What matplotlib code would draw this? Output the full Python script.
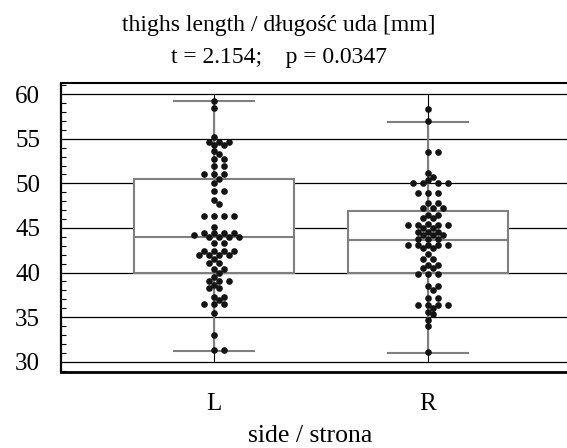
import numpy as np
import matplotlib.pyplot as plt
from matplotlib.ticker import MultipleLocator

plt.rcParams['font.family'] = ['Liberation Serif', 'DejaVu Serif']

# thigh length, left side [mm]
left = [59.3, 58.5, 55.2, 54.7, 54.7, 54.7, 54.3, 54.3, 53.6, 53.3, 52.7, 52.7,
        51.9, 51.9, 51.0, 51.0, 51.0, 50.5, 50.1, 49.1, 49.1, 48.1, 47.7,
        46.3, 46.3, 46.3, 46.3, 45.1, 44.4, 44.4, 44.4, 44.4, 44.0, 44.0, 44.0,
        44.0, 44.2, 43.3, 43.3, 42.4, 42.4, 42.4, 42.4, 42.0, 42.0, 42.0, 42.0,
        41.5, 41.1, 41.1, 40.4, 40.4, 40.0, 39.5, 39.0, 39.0, 39.0, 38.6, 38.3,
        38.3, 37.3, 37.3, 36.9, 36.5, 36.5, 36.5, 35.5, 33.0, 31.3, 31.3]
# thigh length, right side [mm]
right = [58.3, 57.0, 53.5, 53.5, 51.2, 50.7, 50.4, 50.1, 50.1, 50.1, 50.1,
         48.9, 48.9, 48.9, 47.8, 47.8, 47.2, 47.2, 47.2, 46.4, 46.4, 46.1, 46.1,
         45.4, 45.3, 45.3, 45.3, 45.3, 45.0, 45.0, 44.6, 44.6, 44.6, 44.2, 44.2,
         44.2, 43.8, 43.8, 43.8, 43.1, 43.1, 43.1, 43.1, 43.1, 42.7, 42.7, 42.1,
         41.5, 41.5, 40.9, 40.9, 40.5, 40.5, 39.8, 39.8, 39.8, 38.5, 38.5, 38.0,
         37.1, 37.1, 36.4, 36.4, 36.4, 36.4, 36.0, 35.6, 35.3, 34.7, 34.0, 31.1]

sides = ['L', 'R']
box_low = [40.0, 40.0]
box_med = [44.0, 43.6]
box_high = [50.45, 46.9]
whisk_low = [31.25, 31.0]
whisk_high = [59.2, 56.9]

W, H, DPI = 567, 448, 100
fig = plt.figure(figsize=(W / DPI, H / DPI), dpi=DPI)
ax = fig.add_axes([61 / W, (H - 372) / H, 1 - 61 / W, (372 - 83.5) / H])
ax.set_xlim(0.285, 2.65)
ax.set_ylim(28.84, 61.21)

pos = [1, 2]
ax.vlines(pos, 30, 60, color='black', lw=0.8, zorder=2)

stats = []
for i in range(2):
    stats.append(dict(med=box_med[i], q1=box_low[i], q3=box_high[i],
                      whislo=whisk_low[i], whishi=whisk_high[i], fliers=[]))
gray = '#7f7f7f'
ax.bxp(stats, positions=pos, widths=0.75, patch_artist=True, showfliers=False,
       boxprops=dict(facecolor='white', edgecolor=gray, lw=1.5),
       medianprops=dict(color=gray, lw=1.5),
       whiskerprops=dict(color=gray, lw=1.5),
       capprops=dict(color=gray, lw=1.5),
       zorder=3)
ax.set_xlim(0.285, 2.65)
ax.set_ylim(28.84, 61.21)

ax.yaxis.set_major_locator(MultipleLocator(5))
ax.yaxis.set_minor_locator(MultipleLocator(1))
ax.grid(axis='y', which='major', color='black', lw=0.9)
ax.set_axisbelow(True)
ax.tick_params(axis='y', which='major', length=0, pad=15, labelsize=18)
ax.tick_params(axis='y', which='minor', direction='in', length=3.6, width=0.8)
ax.set_xticks(pos)
ax.set_xticklabels(sides)
ax.tick_params(axis='x', length=0, pad=15, labelsize=18)
ax.spines['right'].set_visible(False)
ax.spines['left'].set_linewidth(1.6)
ax.spines['top'].set_linewidth(1.5)
ax.spines['bottom'].set_linewidth(2.0)

# simple beeswarm in pixel space
px_x = 214.0
px_y = ax.transData.transform((0, 60))[1] - ax.transData.transform((0, 55))[1]
px_y /= 5.0
step = 5.0
dmin = 5.4


def swarm(vals):
    placed = []
    offs = []
    cands = [0]
    for n in range(1, 20):
        cands += [n, -n]
    for v in vals:
        y = v * px_y
        for c in cands:
            x = c * step
            if all((x - px) ** 2 + (y - py) ** 2 >= dmin ** 2 for px, py in placed):
                placed.append((x, y))
                offs.append(x / px_x)
                break
    return np.array(offs)


for p, vals in zip(pos, [left, right]):
    v = np.sort(np.array(vals))[::-1]
    off = swarm(v)
    ax.plot(p + off, v, 'o', color='#141414', ms=4.8, mew=0, zorder=5)

fig.text(279 / W, 1 - 26 / H, 'thighs length / długość uda [mm]',
         ha='center', va='center', fontsize=17)
fig.text(279 / W, 1 - 58 / H, 't = 2.154;    p = 0.0347',
         ha='center', va='center', fontsize=17)
fig.text(310 / W, 1 - 436 / H, 'side / strona', ha='center', va='center',
         fontsize=18.5)

fig.savefig('out.png', dpi=DPI)
